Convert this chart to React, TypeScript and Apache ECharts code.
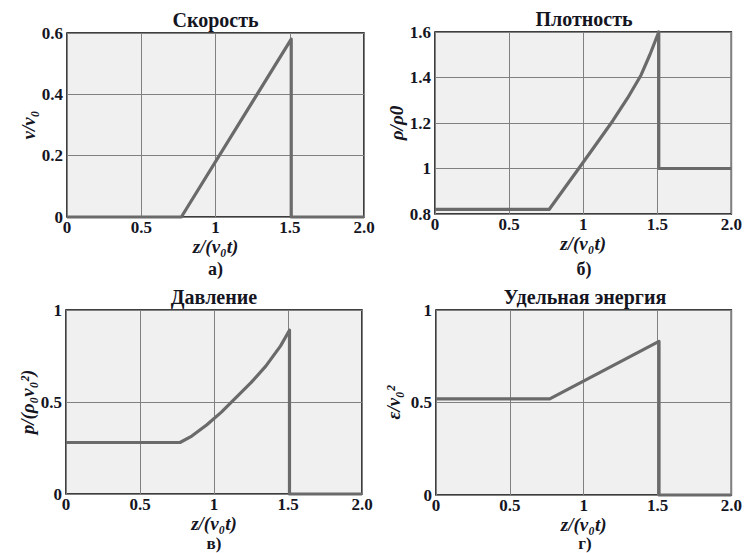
import React, { useEffect, useRef } from "react";
import * as echarts from "echarts";

// ---- data ----
const xTicks = [0, 0.5, 1, 1.5, 2];
const xTickLabels = ["0", "0.5", "1", "1.5", "2.0"];

const velX = [0, 0.77, 1.51, 1.51, 2.0];
const velY = [0, 0, 0.58, 0, 0];
const velTicks = [0, 0.2, 0.4, 0.6];
const velTickLabels = ["0", "0.2", "0.4", "0.6"];

const denX = [0, 0.77, 0.87, 0.97, 1.08, 1.2, 1.3, 1.39, 1.45, 1.51, 1.51, 2.0];
const denY = [0.82, 0.82, 0.91, 1.0, 1.1, 1.21, 1.31, 1.41, 1.5, 1.6, 1.0, 1.0];
const denTicks = [0.8, 1, 1.2, 1.4, 1.6];
const denTickLabels = ["0.8", "1", "1.2", "1.4", "1.6"];

const presX = [0, 0.77, 0.85, 0.95, 1.05, 1.15, 1.25, 1.35, 1.45, 1.51, 1.51, 2.0];
const presY = [0.28, 0.28, 0.315, 0.375, 0.445, 0.525, 0.605, 0.695, 0.805, 0.89, 0, 0];
const unitTicks = [0, 0.5, 1];
const unitTickLabels = ["0", "0.5", "1"];

const enX = [0, 0.77, 1.51, 1.51, 2.0];
const enY = [0.52, 0.52, 0.83, 0, 0];

const titles = ["Скорость", "Плотность", "Давление", "Удельная энергия"];
const yNames = ["v/v₀", "ρ/ρ0", "p/(ρ₀v₀²)", "ε/v₀²"];
const xName = "z/(v₀t)";
const subLabels = ["а)", "б)", "в)", "г)"];

const FONT = "'Liberation Serif', 'Times New Roman', serif";
const TXT = "#15151f";

function pairs(xs: number[], ys: number[]) {
  return xs.map((x, i) => [x, ys[i]]);
}

function labelFor(ticks: number[], labels: string[]) {
  return (v: number) => {
    const i = ticks.findIndex((t) => Math.abs(t - v) < 1e-6);
    return i >= 0 ? labels[i] : "";
  };
}

export default function App() {
  const ref = useRef<HTMLDivElement>(null);

  useEffect(() => {
    if (!ref.current) return;
    const chart = echarts.init(ref.current, null, { renderer: "svg" });

    const grids = [
      { left: 67, top: 33, width: 297, height: 184 },
      { left: 435, top: 32, width: 298, height: 182 },
      { left: 66, top: 310, width: 296, height: 184 },
      { left: 436, top: 310, width: 298, height: 185 },
    ];
    const subY = [269, 269, 543, 543];
    const subSize = [18, 18, 17, 17];
    const xNameGap = [15, 15, 12, 11];
    const yCfg = [
      { min: 0, max: 0.6, interval: 0.2, ticks: velTicks, labels: velTickLabels, gap: 20 },
      { min: 0.8, max: 1.6, interval: 0.2, ticks: denTicks, labels: denTickLabels, gap: 24 },
      { min: 0, max: 1, interval: 0.5, ticks: unitTicks, labels: unitTickLabels, gap: 26 },
      { min: 0, max: 1, interval: 0.5, ticks: unitTicks, labels: unitTickLabels, gap: 33 },
    ];
    const seriesData = [
      pairs(velX, velY),
      pairs(denX, denY),
      pairs(presX, presY),
      pairs(enX, enY),
    ];

    const graphic: any[] = [];
    grids.forEach((g, i) => {
      const cx = g.left + g.width / 2;
      graphic.push({
        type: "text",
        x: cx,
        y: g.top - 13,
        style: {
          text: titles[i],
          fontFamily: FONT,
          fontWeight: "bold",
          fontSize: 20,
          fill: TXT,
          align: "center",
          verticalAlign: "middle",
        },
      });
      graphic.push({
        type: "text",
        x: cx,
        y: subY[i],
        style: {
          text: subLabels[i],
          fontFamily: FONT,
          fontWeight: "bold",
          fontSize: subSize[i],
          fill: TXT,
          align: "center",
          verticalAlign: "middle",
        },
      });
    });

    const option: any = {
      animation: false,
      backgroundColor: "#ffffff",
      grid: grids.map((g) => ({
        ...g,
        show: true,
        backgroundColor: "#f0f0f0",
        borderColor: "#000000",
        borderWidth: 1.5,
        z: 0,
      })),
      xAxis: grids.map((_, i) => ({
        type: "value",
        gridIndex: i,
        min: 0,
        max: 2,
        interval: 0.5,
        name: xName,
        nameLocation: "middle",
        nameGap: xNameGap[i],
        nameTextStyle: {
          fontFamily: FONT,
          fontWeight: "bold",
          fontStyle: "italic",
          fontSize: 19,
          color: TXT,
        },
        axisLine: { show: false },
        axisTick: { show: false },
        axisLabel: {
          margin: 2,
          fontFamily: FONT,
          fontWeight: "bold",
          fontSize: 17,
          color: TXT,
          showMinLabel: true,
          showMaxLabel: true,
          formatter: labelFor(xTicks, xTickLabels),
        },
        splitLine: { show: true, lineStyle: { color: "#808080", width: 1 } },
      })),
      yAxis: yCfg.map((c, i) => ({
        type: "value",
        gridIndex: i,
        min: c.min,
        max: c.max,
        interval: c.interval,
        name: yNames[i],
        nameLocation: "middle",
        nameGap: c.gap,
        nameRotate: 90,
        nameTextStyle: {
          fontFamily: FONT,
          fontWeight: "bold",
          fontStyle: "italic",
          fontSize: 19,
          color: TXT,
        },
        axisLine: { show: false },
        axisTick: { show: false },
        axisLabel: {
          margin: 4,
          fontFamily: FONT,
          fontWeight: "bold",
          fontSize: 17,
          color: TXT,
          showMinLabel: true,
          showMaxLabel: true,
          formatter: labelFor(c.ticks, c.labels),
        },
        splitLine: { show: true, lineStyle: { color: "#808080", width: 1 } },
      })),
      series: seriesData.map((d, i) => ({
        type: "line",
        xAxisIndex: i,
        yAxisIndex: i,
        data: d,
        symbol: "none",
        clip: false,
        lineStyle: { color: "#6a6a6a", width: 3.2, join: "round" },
        z: 3,
      })),
      graphic,
    };

    chart.setOption(option);
    return () => chart.dispose();
  }, []);

  return (
    <div
      ref={ref}
      style={{ position: "fixed", left: 0, top: 0, width: 745, height: 553 }}
    />
  );
}
